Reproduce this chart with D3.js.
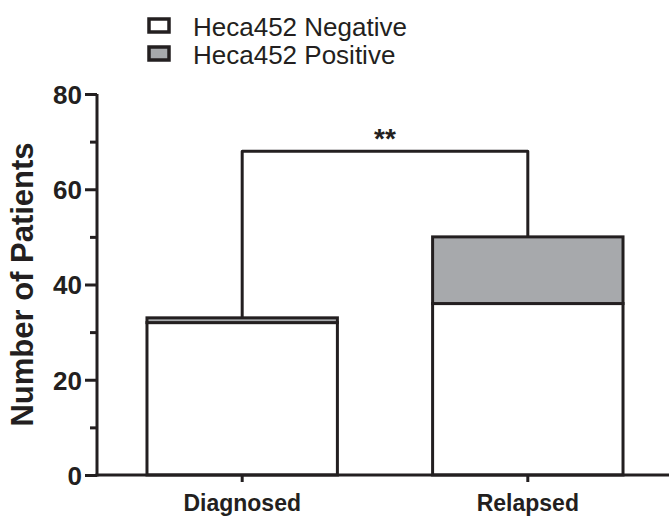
<!DOCTYPE html>
<html><head><meta charset="utf-8">
<script src="https://cdn.jsdelivr.net/npm/d3@7"></script>
<style>body{margin:0;background:#fff}svg{display:block}text{font-family:"Liberation Sans",Arial,sans-serif;fill:#231f20}</style>
</head><body>
<svg id="c" width="669" height="518"></svg>
<script>
const categories = ["Diagnosed", "Relapsed"];
const negative = [32, 36];
const positive = [1, 14];
const seriesNames = ["Heca452 Negative", "Heca452 Positive"];
const seriesColors = ["#ffffff", "#a7a9ac"];
const yTicks = [0, 20, 40, 60, 80];
const yMinorTicks = [10, 30, 50, 70];
const sigValue = 68;
const sigLabel = "**";

const svg = d3.select("#c");
const m = {left: 97, right: 669, top: 94, bottom: 475};
const y = d3.scaleLinear().domain([0, 80]).range([m.bottom, m.top]);
const x = d3.scaleBand().domain(categories).range([97, 673]).paddingInner(1/3).paddingOuter(0.175);
const ink = "#231f20";

// bars
const data = categories.map((c, i) => ({c, neg: negative[i], pos: positive[i]}));
const stack = d3.stack().keys(["neg", "pos"])(data);
stack.forEach((s, si) => {
  svg.append("g").selectAll("rect").data(s).join("rect")
    .attr("x", d => x(d.data.c))
    .attr("width", x.bandwidth())
    .attr("y", d => y(d[1]))
    .attr("height", d => y(d[0]) - y(d[1]))
    .attr("fill", seriesColors[si])
    .attr("stroke", ink).attr("stroke-width", 3);
});

// y axis
const ya = svg.append("g").attr("transform", `translate(${m.left},0)`)
  .call(d3.axisLeft(y).tickValues(yTicks).tickSize(12).tickPadding(3).tickFormat(d3.format("d")));
ya.select(".domain").attr("stroke", ink).attr("stroke-width", 3).attr("d", `M0,${m.bottom+1.5}V${m.top}`);
ya.selectAll(".tick line").attr("stroke", ink).attr("stroke-width", 3);
ya.selectAll(".tick text").style("font-size", "26px").style("font-weight", "bold").attr("fill", ink)
  .attr("font-family", "Liberation Sans, Arial, sans-serif").attr("dy", "0.36em");
const ym = svg.append("g").attr("transform", `translate(${m.left},0)`)
  .call(d3.axisLeft(y).tickValues(yMinorTicks).tickSize(7).tickFormat(""));
ym.select(".domain").remove();
ym.selectAll(".tick line").attr("stroke", ink).attr("stroke-width", 3);

// x axis
const xa = svg.append("g").attr("transform", `translate(0,${m.bottom})`)
  .call(d3.axisBottom(x).tickSize(7).tickPadding(13));
xa.select(".domain").attr("stroke", ink).attr("stroke-width", 3).attr("d", `M${m.left-1.5},0H${m.right}`);
xa.selectAll(".tick line").attr("stroke", ink).attr("stroke-width", 3);
xa.selectAll(".tick text").style("font-size", "23px").style("font-weight", "bold").attr("fill", ink)
  .attr("font-family", "Liberation Sans, Arial, sans-serif");

// y label
svg.append("text").attr("transform", `translate(33,${(m.top+m.bottom)/2}) rotate(-90)`)
  .attr("text-anchor", "middle").style("font-size", "31px").style("font-weight", "bold")
  .text("Number of Patients");

// significance bracket
const xc = c => x(c) + x.bandwidth() / 2;
const tops = data.map(d => d.neg + d.pos);
svg.append("path")
  .attr("d", `M${xc(categories[0])},${y(tops[0])}V${y(sigValue)}H${xc(categories[1])}V${y(tops[1])}`)
  .attr("fill", "none").attr("stroke", ink).attr("stroke-width", 3).attr("stroke-linejoin", "round");
svg.append("text").attr("x", (xc(categories[0]) + xc(categories[1])) / 2).attr("y", y(sigValue) - 3)
  .attr("text-anchor", "middle").style("font-size", "28px").style("font-weight", "bold").text(sigLabel);

// legend
const lg = svg.append("g");
seriesNames.forEach((n, i) => {
  const yy = 19 + i * 28;
  lg.append("rect").attr("x", 149).attr("y", yy).attr("width", 20).attr("height", 13)
    .attr("fill", seriesColors[i]).attr("stroke", ink).attr("stroke-width", 3.5);
  lg.append("text").attr("x", 193).attr("y", yy + 17).style("font-size", "26px").text(n);
});
</script>
</body></html>
